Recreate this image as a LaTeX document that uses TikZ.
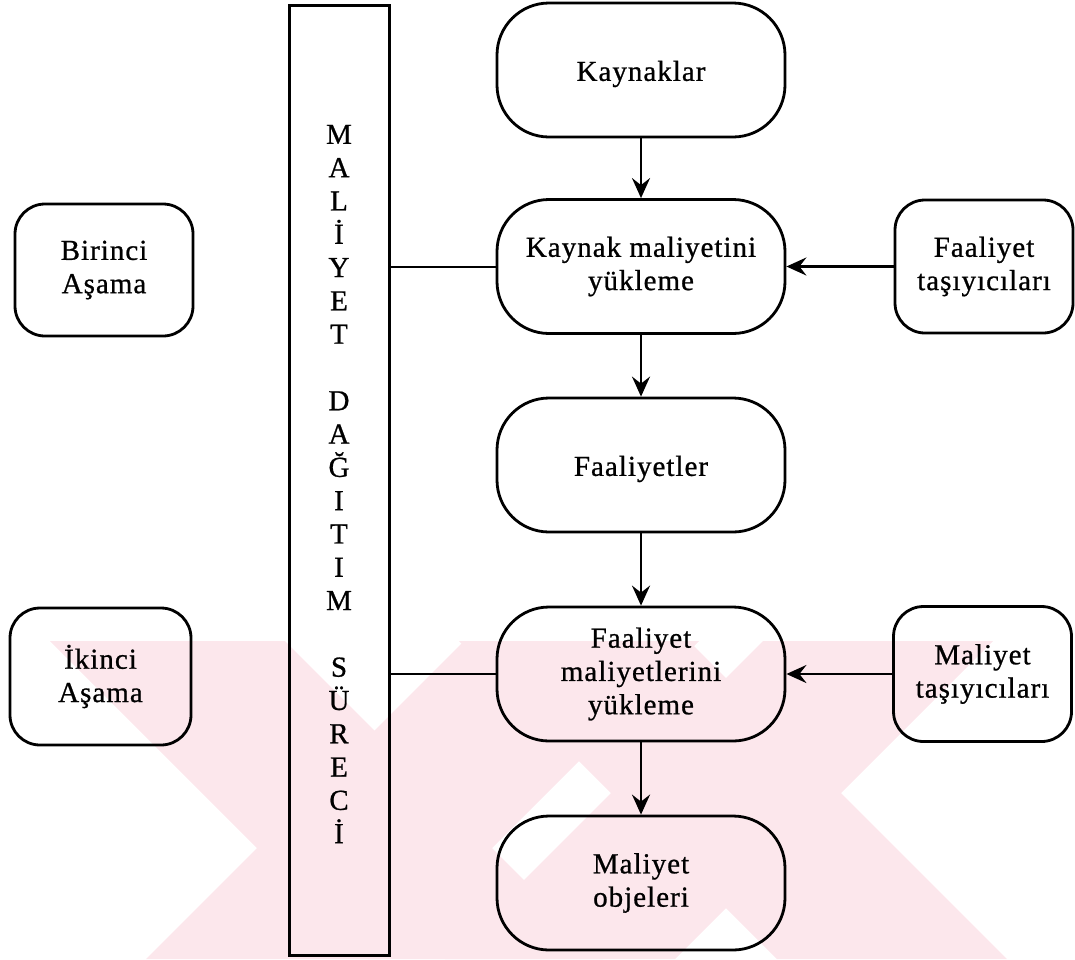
\documentclass[tikz,border=0pt]{standalone}
\usepackage{fontspec}
\setmainfont{Liberation Serif}[LetterSpace=3.5,FakeBold=0.8]
\usetikzlibrary{arrows.meta}
\definecolor{wmpink}{RGB}{252,231,236}
\tikzset{
  txt/.style={font=\fontsize{29}{33.3}\selectfont, align=center, inner sep=0pt},
  boxtext/.style={txt,
    execute at begin node={\rule{0pt}{28pt}},
    execute at end node={\rule[-4pt]{0pt}{4pt}}},
  mainbox/.style={boxtext, draw, line width=2.8pt, rounded corners=52pt,
    minimum width=288pt, minimum height=134pt},
  sidebox/.style={boxtext, draw, line width=2.8pt, rounded corners=30pt,
    minimum width=178pt, minimum height=132pt},
  barbox/.style={draw, line width=3pt, minimum width=100pt, minimum height=950pt, inner sep=0pt},
  flow/.style={line width=2.6pt, -{Stealth[length=20pt,width=18pt,inset=7pt]}},
  link/.style={line width=2pt}
}
\begin{document}
\begin{tikzpicture}[x=1pt,y=-1pt]
\useasboundingbox (0,0) rectangle (1075,959);

% faint background mark in the lower part of the page
\begin{scope}
  \clip (0,641) rectangle (1075,959);
  % first cross
  \fill[wmpink] (50,641) -- (285,641) -- (603,959) -- (368,959) -- cycle;
  \fill[wmpink] (464,641) -- (699,641) -- (381,959) -- (146,959) -- cycle;
  % second cross
  \fill[wmpink] (459,641) -- (689,641) -- (1007,959) -- (777,959) -- cycle;
  \fill[wmpink] (763,641) -- (993,641) -- (675,959) -- (445,959) -- cycle;
\end{scope}

% vertical process bar
\node[barbox] (bar) at (339,480) {};
\node[txt] (barlabel) at (339,484) {M\\A\\L\\İ\\Y\\E\\T\\ \\D\\A\\Ğ\\I\\T\\I\\M\\ \\S\\Ü\\R\\E\\C\\İ};

% main flow
\node[mainbox] (kay) at (641,70) {Kaynaklar};
\node[mainbox] (kml) at (641,266.5) {Kaynak maliyetini\\yükleme};
\node[mainbox] (fa)  at (641,465) {Faaliyetler};
\node[mainbox] (fml) at (641,674) {Faaliyet\\maliyetlerini\\yükleme};
\node[mainbox] (mo)  at (641,883) {Maliyet\\objeleri};

% stage labels
\node[sidebox] (bir) at (104,270) {Birinci\\Aşama};
\node[sidebox, minimum width=181pt, minimum height=137pt] (iki) at (100.5,676.5) {İkinci\\Aşama};

% drivers
\node[sidebox, minimum height=133pt] (ft) at (984,266.5) {Faaliyet\\taşıyıcıları};
\node[sidebox, minimum height=135pt] (mt) at (982.5,674) {Maliyet\\taşıyıcıları};

% arrows
\draw[flow] (kay) -- (kml);
\draw[flow] (kml) -- (fa);
\draw[flow] (fa) -- (fml);
\draw[flow] (fml) -- (mo);
\draw[flow] (ft) -- (kml);
\draw[flow] (mt) -- (fml);

% links from the bar
\draw[link] (bar.east |- kml.west) -- (kml.west);
\draw[link] (bar.east |- fml.west) -- (fml.west);
\end{tikzpicture}
\end{document}
